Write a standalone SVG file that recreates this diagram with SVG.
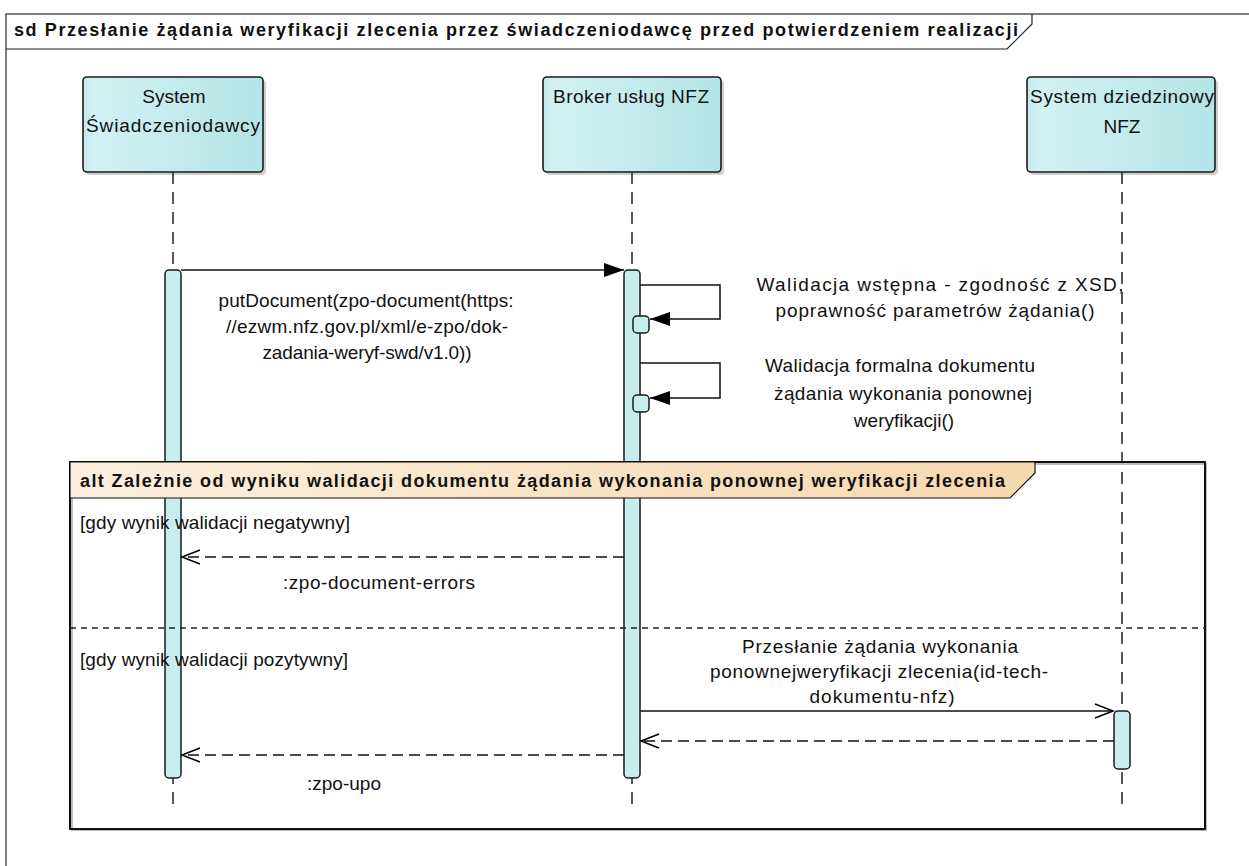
<svg xmlns="http://www.w3.org/2000/svg" width="1249" height="866" viewBox="0 0 1249 866">
<defs>
<linearGradient id="gHead" x1="0" y1="0" x2="1" y2="0">
<stop offset="0" stop-color="#c4e9ec"/>
<stop offset="0.06" stop-color="#d3f1f3"/>
<stop offset="1" stop-color="#b3e4e7"/>
</linearGradient>
<linearGradient id="gTab" x1="0" y1="0" x2="1" y2="0">
<stop offset="0" stop-color="#fcefdf"/>
<stop offset="1" stop-color="#f6d8ae"/>
</linearGradient>
<marker id="filled" markerWidth="22" markerHeight="16" refX="20" refY="7" orient="auto" markerUnits="userSpaceOnUse">
<path d="M0,0 L20,7 L0,14 Z" fill="#000"/>
</marker>
<marker id="open" markerWidth="22" markerHeight="18" refX="19" refY="8" orient="auto" markerUnits="userSpaceOnUse">
<path d="M1,1 L19,8 L1,15" fill="none" stroke="#000" stroke-width="1.5"/>
</marker>
</defs>
<style>
.t{font-family:"Liberation Sans",Arial,sans-serif;font-size:19px;fill:#111;}
.b{font-weight:bold;font-size:18px;}
.m{text-anchor:middle;}
.head{fill:url(#gHead);stroke:#1a1a1a;stroke-width:1.6;}
.shadow{fill:#8a8a8a;opacity:0.4;}
.life{stroke:#222;stroke-width:1.5;stroke-dasharray:12 8;fill:none;}
.act{fill:#c8edef;stroke:#1a1a1a;stroke-width:1.5;}
.msg{stroke:#111;stroke-width:1.5;fill:none;}
.ret{stroke:#111;stroke-width:1.5;fill:none;stroke-dasharray:11 6;}
</style>
<rect width="1249" height="866" fill="#fff"/>

<g id="frame">
<path d="M6,866 V14 H1249" fill="none" stroke="#555" stroke-width="1.5"/>
<path d="M6,49 H1007 L1032,24 V14" fill="none" stroke="#222" stroke-width="1.2"/>
<text class="t b" x="14" y="36" textLength="1004" lengthAdjust="spacing">sd Przesłanie żądania weryfikacji zlecenia przez świadczeniodawcę przed potwierdzeniem realizacji</text>
</g>

<g id="lifeline-swd">
<rect class="shadow" x="86" y="80" width="180" height="95" rx="4"/>
<rect class="head" x="83" y="77" width="180" height="95" rx="4"/>
<text class="t m" x="174" y="103">System</text>
<text class="t m" x="173" y="132" textLength="174" lengthAdjust="spacing">Świadczeniodawcy</text>
<line class="life" x1="173" y1="172" x2="173" y2="812"/>
<rect class="act" x="165" y="270" width="16" height="508" rx="4"/>
</g>

<g id="lifeline-broker">
<rect class="shadow" x="546" y="80" width="178" height="95" rx="4"/>
<rect class="head" x="543" y="77" width="178" height="95" rx="4"/>
<text class="t m" x="631" y="103" textLength="156" lengthAdjust="spacing">Broker usług NFZ</text>
<line class="life" x1="632" y1="172" x2="632" y2="812"/>
<rect class="act" x="624" y="270" width="16" height="508" rx="4"/>
<rect class="act" x="633" y="316" width="16" height="17" rx="4"/>
<rect class="act" x="633" y="395" width="16" height="17" rx="4"/>
</g>

<g id="lifeline-nfz">
<rect class="shadow" x="1030" y="80" width="188" height="95" rx="4"/>
<rect class="head" x="1027" y="77" width="188" height="95" rx="4"/>
<text class="t m" x="1122" y="103" textLength="184" lengthAdjust="spacing">System dziedzinowy</text>
<text class="t m" x="1122" y="133">NFZ</text>
<line class="life" x1="1122" y1="172" x2="1122" y2="812"/>
<rect class="act" x="1114" y="711" width="16" height="58" rx="4"/>
</g>

<g id="alt">
<rect x="72" y="464" width="1134" height="366" fill="none" stroke="#bbb" stroke-width="2"/>
<rect x="70" y="462" width="1135" height="367" fill="none" stroke="#111" stroke-width="2"/>
<path d="M70,462 H1035 V473 L1010,498 H70 Z" fill="url(#gTab)" stroke="#111" stroke-width="1.2"/>
<text class="t b" x="80" y="487" textLength="925" lengthAdjust="spacing">alt Zależnie od wyniku walidacji dokumentu żądania wykonania ponownej weryfikacji zlecenia</text>
<line x1="70" y1="628" x2="1205" y2="628" stroke="#222" stroke-width="1.5" stroke-dasharray="6 5"/>
<text class="t" x="80" y="529" textLength="270" lengthAdjust="spacing">[gdy wynik walidacji negatywny]</text>
<text class="t" x="80" y="666" textLength="268" lengthAdjust="spacing">[gdy wynik walidacji pozytywny]</text>
</g>

<g id="connectors">
<line class="msg" x1="181" y1="270" x2="624" y2="270" marker-end="url(#filled)"/>
<path class="msg" d="M640,285 H720 V319 H650" marker-end="url(#filled)"/>
<path class="msg" d="M640,363 H720 V398 H650" marker-end="url(#filled)"/>
<line class="ret" x1="624" y1="557" x2="182" y2="557" marker-end="url(#open)"/>
<line class="msg" x1="640" y1="711" x2="1113" y2="711" marker-end="url(#open)"/>
<line class="ret" x1="1114" y1="741" x2="641" y2="741" marker-end="url(#open)"/>
<line class="ret" x1="624" y1="755" x2="182" y2="755" marker-end="url(#open)"/>
</g>

<g id="labels">
<text class="t m" x="366" y="307" textLength="295" lengthAdjust="spacing">putDocument(zpo-document(https:</text>
<text class="t m" x="367" y="333" textLength="282" lengthAdjust="spacing">//ezwm.nfz.gov.pl/xml/e-zpo/dok-</text>
<text class="t m" x="367" y="359" textLength="209" lengthAdjust="spacing">zadania-weryf-swd/v1.0))</text>
<text class="t m" x="940" y="291" textLength="367" lengthAdjust="spacing">Walidacja wstępna - zgodność z XSD,</text>
<text class="t m" x="935" y="317" textLength="319" lengthAdjust="spacing">poprawność parametrów żądania()</text>
<text class="t m" x="900" y="372" textLength="270" lengthAdjust="spacing">Walidacja formalna dokumentu</text>
<text class="t m" x="903" y="400" textLength="258" lengthAdjust="spacing">żądania wykonania ponownej</text>
<text class="t m" x="904" y="427">weryfikacji()</text>
<text class="t m" x="379" y="589" textLength="192" lengthAdjust="spacing">:zpo-document-errors</text>
<text class="t m" x="880" y="653" textLength="276" lengthAdjust="spacing">Przesłanie żądania wykonania</text>
<text class="t m" x="879" y="678" textLength="338" lengthAdjust="spacing">ponownejweryfikacji zlecenia(id-tech-</text>
<text class="t m" x="882" y="703" textLength="145" lengthAdjust="spacing">dokumentu-nfz)</text>
<text class="t m" x="344" y="790">:zpo-upo</text>
</g>
</svg>
